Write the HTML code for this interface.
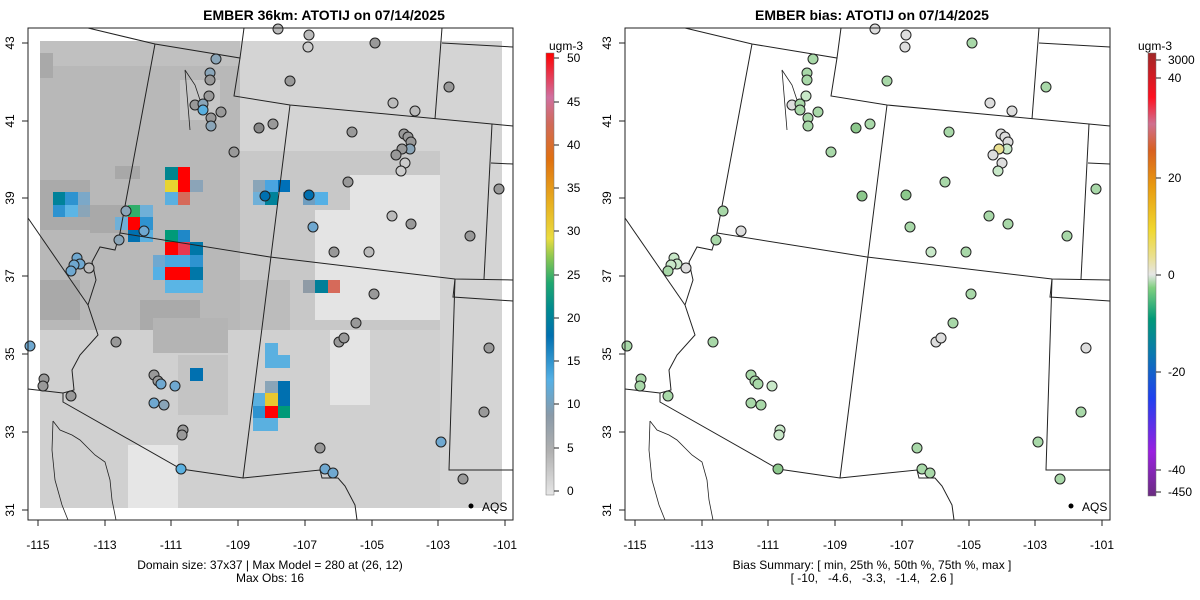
<!DOCTYPE html>
<html><head><meta charset="utf-8"><style>
body{margin:0;background:#fff;}
svg{display:block;font-family:"Liberation Sans",sans-serif;}
</style></head><body>
<svg width="1200" height="600" viewBox="0 0 1200 600" xmlns="http://www.w3.org/2000/svg">
<defs>
<linearGradient id="cb1" x1="0" y1="1" x2="0" y2="0">
<stop offset="0" stop-color="#e6e6e6"/><stop offset="0.1" stop-color="#b0b0b0"/><stop offset="0.18" stop-color="#8a9aa8"/>
<stop offset="0.26" stop-color="#55b0e5"/><stop offset="0.36" stop-color="#0070b0"/><stop offset="0.42" stop-color="#008a90"/>
<stop offset="0.48" stop-color="#20a870"/><stop offset="0.54" stop-color="#90c850"/><stop offset="0.58" stop-color="#eadc40"/>
<stop offset="0.66" stop-color="#e8b020"/><stop offset="0.76" stop-color="#e07010"/><stop offset="0.84" stop-color="#d06a5a"/>
<stop offset="0.9" stop-color="#d070a0"/><stop offset="1" stop-color="#ff0000"/></linearGradient>
<linearGradient id="cb2" x1="0" y1="1" x2="0" y2="0">
<stop offset="0" stop-color="#6a2c80"/><stop offset="0.1" stop-color="#9a20e0"/><stop offset="0.22" stop-color="#2040f0"/>
<stop offset="0.32" stop-color="#0a78b0"/><stop offset="0.4" stop-color="#009a78"/><stop offset="0.47" stop-color="#80d080"/>
<stop offset="0.5" stop-color="#e6e6e6"/><stop offset="0.54" stop-color="#eae090"/><stop offset="0.6" stop-color="#f0d830"/>
<stop offset="0.7" stop-color="#e89a10"/><stop offset="0.78" stop-color="#d86020"/><stop offset="0.84" stop-color="#d07090"/>
<stop offset="0.9" stop-color="#ff1020"/><stop offset="1" stop-color="#a02828"/></linearGradient>
<g id="borders" fill="none" stroke="#222" stroke-width="1">
<polyline points="88,28 155,44 240,58 244,28"/>
<polyline points="240,58 234,96 290,105 492,124 513,126"/>
<polyline points="442,28 435,119"/>
<polyline points="442,43 513,47"/>
<polyline points="491,163 513,164"/>
<polyline points="155,44 120,233 270,257 455,279 513,280"/>
<polyline points="492,124 484,279"/>
<polyline points="455,279 453,297 513,301"/>
<polyline points="455,279 449,470 513,470"/>
<polyline points="290,105 263,320 243,478"/>
<polyline points="28,218 88,305"/>
<polyline points="120,233 115,250 100,247 92,262 96,280 88,305 98,335 80,355 72,370 74,390 63,393 63,402 181,469 243,478 320,470 322,478 338,478 345,486 355,505 357,520"/>
<polyline points="28,389 63,393"/>
<polyline points="53,421 60,430 72,435 80,440 88,448 95,455 105,462 110,480 112,500 116,520" stroke-width="0.8"/>
<polyline points="53,421 52,450 55,480 62,505 68,520" stroke-width="0.8"/>
<polyline points="190,130 185,70 195,85 200,100 195,110" stroke-width="0.8"/>
</g>
</defs>

<!-- LEFT PANEL -->
<text x="324" y="20" font-size="14" font-weight="bold" text-anchor="middle">EMBER 36km: ATOTIJ on 07/14/2025</text>
<rect x="40" y="41" width="462" height="467" fill="#c8c8c8"/>
<rect x="40" y="41" width="200" height="25" fill="#c0c0c0"/>
<rect x="40" y="66" width="200" height="264" fill="#b8b8b8"/>
<rect x="40" y="53" width="13" height="25" fill="#a9a9a9"/>
<rect x="40" y="180" width="50" height="50" fill="#aaaaaa"/>
<rect x="90" y="205" width="50" height="28" fill="#a9a9a9"/>
<rect x="115" y="166" width="25" height="13" fill="#a8a8a8"/>
<rect x="40" y="280" width="40" height="40" fill="#a9a9a9"/>
<rect x="140" y="300" width="60" height="40" fill="#aaaaaa"/>
<rect x="180" y="80" width="40" height="40" fill="#c6c6c6"/>
<rect x="40" y="330" width="200" height="178" fill="#d0d0d0"/>
<rect x="153" y="318" width="75" height="35" fill="#b4b4b4"/>
<rect x="178" y="355" width="50" height="60" fill="#c4c4c4"/>
<rect x="240" y="41" width="262" height="110" fill="#d4d4d4"/>
<rect x="440" y="41" width="62" height="467" fill="#d4d4d4"/>
<rect x="350" y="175" width="90" height="80" fill="#e4e4e4"/>
<rect x="315" y="210" width="125" height="110" fill="#e4e4e4"/>
<rect x="240" y="330" width="200" height="178" fill="#d0d0d0"/>
<rect x="330" y="330" width="40" height="75" fill="#e4e4e4"/>
<rect x="128" y="445" width="50" height="63" fill="#e6e6e6"/>
<rect x="240" y="280" width="50" height="50" fill="#bcbcbc"/>
<g>
<rect x="165" y="167" width="13" height="13" fill="#00858f"/><rect x="178" y="167" width="12" height="13" fill="#ff0000"/>
<rect x="165" y="180" width="13" height="12" fill="#e8d430"/><rect x="178" y="180" width="12" height="12" fill="#ff0000"/><rect x="190" y="180" width="13" height="12" fill="#8ba4b8"/>
<rect x="165" y="192" width="13" height="13" fill="#5ab0e0"/><rect x="178" y="192" width="12" height="13" fill="#d66a5a"/>
<rect x="53" y="192" width="12" height="13" fill="#00829a"/><rect x="65" y="192" width="13" height="13" fill="#2e93d0"/><rect x="78" y="192" width="12" height="13" fill="#7ba8c8"/>
<rect x="53" y="205" width="12" height="12" fill="#2e93d0"/><rect x="65" y="205" width="13" height="12" fill="#5cb5e5"/><rect x="78" y="205" width="12" height="12" fill="#8aa5b8"/>
<rect x="128" y="205" width="12" height="12" fill="#2fae6a"/><rect x="140" y="205" width="13" height="12" fill="#6fb0d8"/>
<rect x="115" y="217" width="13" height="13" fill="#6fb0d8"/><rect x="128" y="217" width="12" height="13" fill="#ff0000"/><rect x="140" y="217" width="13" height="13" fill="#2e93d0"/>
<rect x="128" y="230" width="12" height="12" fill="#0070b0"/><rect x="140" y="230" width="13" height="12" fill="#5ab0e0"/>
<rect x="165" y="230" width="13" height="12" fill="#009a78"/><rect x="178" y="230" width="12" height="12" fill="#1f88c8"/>
<rect x="165" y="242" width="13" height="13" fill="#ff0000"/><rect x="178" y="242" width="12" height="13" fill="#e83850"/><rect x="190" y="242" width="13" height="13" fill="#0077a8"/>
<rect x="153" y="255" width="12" height="12" fill="#6fa8d0"/><rect x="165" y="255" width="25" height="12" fill="#4aa8e0"/><rect x="190" y="255" width="13" height="12" fill="#2e93d0"/>
<rect x="153" y="267" width="12" height="13" fill="#55b0e5"/><rect x="165" y="267" width="25" height="13" fill="#ff0000"/><rect x="190" y="267" width="13" height="13" fill="#0077a8"/>
<rect x="165" y="280" width="38" height="13" fill="#5ab5e5"/>
<rect x="253" y="180" width="12" height="12" fill="#8aa5b8"/><rect x="265" y="180" width="13" height="12" fill="#4aa5e0"/><rect x="278" y="180" width="12" height="12" fill="#0070b8"/>
<rect x="253" y="192" width="12" height="13" fill="#6fb0d8"/><rect x="265" y="192" width="13" height="13" fill="#00829a"/>
<rect x="303" y="192" width="12" height="13" fill="#6f9ec0"/><rect x="315" y="192" width="13" height="13" fill="#55b0e5"/>
<rect x="303" y="280" width="12" height="13" fill="#8f9ba6"/><rect x="315" y="280" width="13" height="13" fill="#007f99"/><rect x="328" y="280" width="12" height="13" fill="#d66a5a"/>
<rect x="265" y="343" width="13" height="12" fill="#5ab0e0"/>
<rect x="265" y="355" width="25" height="13" fill="#5ab0e0"/>
<rect x="265" y="381" width="13" height="12" fill="#8aa5b8"/><rect x="278" y="381" width="12" height="12" fill="#0070b0"/>
<rect x="253" y="393" width="12" height="13" fill="#5ab0e0"/><rect x="265" y="393" width="13" height="13" fill="#e8c830"/><rect x="278" y="393" width="12" height="13" fill="#0070b0"/>
<rect x="253" y="406" width="12" height="12" fill="#2e93d0"/><rect x="265" y="406" width="13" height="12" fill="#ff0000"/><rect x="278" y="406" width="12" height="12" fill="#009a78"/>
<rect x="253" y="418" width="25" height="13" fill="#5ab0e0"/>
<rect x="190" y="368" width="13" height="13" fill="#0070b0"/>
</g>
<use href="#borders"/>
<g stroke="#222" stroke-width="1">
<circle cx="216" cy="59" r="5" fill="#8aa5b8"/><circle cx="210" cy="73" r="5" fill="#8aa5b8"/><circle cx="210" cy="80" r="5" fill="#999"/>
<circle cx="209" cy="96" r="5" fill="#999"/><circle cx="195" cy="105" r="5" fill="#999"/><circle cx="203" cy="104" r="5" fill="#8aa5b8"/>
<circle cx="203" cy="110" r="5" fill="#5ab0e0"/><circle cx="211" cy="118" r="5" fill="#999"/><circle cx="221" cy="112" r="5" fill="#999"/>
<circle cx="211" cy="126" r="5" fill="#8aa5b8"/><circle cx="259" cy="128" r="5" fill="#888"/><circle cx="273" cy="124" r="5" fill="#999"/>
<circle cx="234" cy="152" r="5" fill="#999"/><circle cx="278" cy="29" r="5" fill="#bbb"/><circle cx="309" cy="35" r="5" fill="#bbb"/>
<circle cx="308" cy="47" r="5" fill="#ccc"/><circle cx="375" cy="43" r="5" fill="#999"/><circle cx="290" cy="81" r="5" fill="#999"/>
<circle cx="393" cy="103" r="5" fill="#bbb"/><circle cx="415" cy="111" r="5" fill="#bbb"/><circle cx="449" cy="87" r="5" fill="#999"/>
<circle cx="352" cy="132" r="5" fill="#999"/><circle cx="404" cy="134" r="5" fill="#999"/><circle cx="408" cy="137" r="5" fill="#999"/>
<circle cx="411" cy="142" r="5" fill="#999"/><circle cx="410" cy="149" r="5" fill="#8aa5b8"/><circle cx="402" cy="149" r="5" fill="#999"/>
<circle cx="396" cy="155" r="5" fill="#999"/><circle cx="405" cy="163" r="5" fill="#ccc"/><circle cx="401" cy="171" r="5" fill="#ccc"/>
<circle cx="348" cy="182" r="5" fill="#999"/><circle cx="499" cy="189" r="5" fill="#999"/><circle cx="265" cy="196" r="5" fill="#0070b0"/>
<circle cx="309" cy="195" r="5" fill="#0070b0"/><circle cx="313" cy="227" r="5" fill="#6fa8d0"/><circle cx="392" cy="216" r="5" fill="#bbb"/>
<circle cx="411" cy="224" r="5" fill="#999"/><circle cx="470" cy="236" r="5" fill="#999"/><circle cx="126" cy="211" r="5" fill="#8aa5b8"/>
<circle cx="144" cy="231" r="5" fill="#6fa8d0"/><circle cx="119" cy="240" r="5" fill="#8aa5b8"/><circle cx="334" cy="252" r="5" fill="#999"/>
<circle cx="369" cy="252" r="5" fill="#bbb"/><circle cx="374" cy="294" r="5" fill="#999"/><circle cx="356" cy="323" r="5" fill="#999"/>
<circle cx="339" cy="342" r="5" fill="#999"/><circle cx="344" cy="338" r="5" fill="#999"/><circle cx="489" cy="348" r="5" fill="#999"/>
<circle cx="484" cy="412" r="5" fill="#999"/><circle cx="441" cy="442" r="5" fill="#6fa8d0"/><circle cx="463" cy="479" r="5" fill="#999"/>
<circle cx="320" cy="448" r="5" fill="#999"/><circle cx="325" cy="469" r="5" fill="#6fa8d0"/><circle cx="333" cy="473" r="5" fill="#6fa8d0"/>
<circle cx="154" cy="375" r="5" fill="#999"/><circle cx="158" cy="381" r="5" fill="#999"/><circle cx="161" cy="384" r="5" fill="#6fa8d0"/><circle cx="175" cy="386" r="5" fill="#6fa8d0"/>
<circle cx="154" cy="403" r="5" fill="#6fa8d0"/><circle cx="164" cy="405" r="5" fill="#8aa5b8"/><circle cx="183" cy="430" r="5" fill="#999"/>
<circle cx="182" cy="435" r="5" fill="#999"/><circle cx="181" cy="469" r="5" fill="#5ab0e0"/><circle cx="116" cy="342" r="5" fill="#999"/>
<circle cx="71" cy="396" r="5" fill="#999"/><circle cx="44" cy="379" r="5" fill="#999"/><circle cx="43" cy="386" r="5" fill="#999"/>
<circle cx="30" cy="346" r="5" fill="#6fa8d0"/><circle cx="77" cy="258" r="5" fill="#6fa8d0"/><circle cx="80" cy="264" r="5" fill="#6fa8d0"/>
<circle cx="74" cy="265" r="5" fill="#6fa8d0"/><circle cx="71" cy="271" r="5" fill="#6fa8d0"/><circle cx="89" cy="268" r="5" fill="#bbb"/>
</g>
<rect x="28" y="28" width="485" height="492" fill="none" stroke="#222"/>
<circle cx="471" cy="506" r="2.5" fill="#000"/><text x="482" y="511" font-size="12">AQS</text>
<g stroke="#222"><line x1="38" y1="520" x2="38" y2="526"/><line x1="105" y1="520" x2="105" y2="526"/><line x1="171" y1="520" x2="171" y2="526"/><line x1="238" y1="520" x2="238" y2="526"/><line x1="305" y1="520" x2="305" y2="526"/><line x1="372" y1="520" x2="372" y2="526"/><line x1="438" y1="520" x2="438" y2="526"/><line x1="505" y1="520" x2="505" y2="526"/>
<line x1="22" y1="43" x2="28" y2="43"/><line x1="22" y1="121" x2="28" y2="121"/><line x1="22" y1="198" x2="28" y2="198"/><line x1="22" y1="276" x2="28" y2="276"/><line x1="22" y1="354" x2="28" y2="354"/><line x1="22" y1="432" x2="28" y2="432"/><line x1="22" y1="510" x2="28" y2="510"/></g>
<g font-size="12" text-anchor="middle"><text x="38" y="549">-115</text><text x="105" y="549">-113</text><text x="171" y="549">-111</text><text x="238" y="549">-109</text><text x="305" y="549">-107</text><text x="372" y="549">-105</text><text x="438" y="549">-103</text><text x="505" y="549">-101</text>
<text transform="translate(14,43) rotate(-90)">43</text><text transform="translate(14,121) rotate(-90)">41</text><text transform="translate(14,198) rotate(-90)">39</text><text transform="translate(14,276) rotate(-90)">37</text><text transform="translate(14,354) rotate(-90)">35</text><text transform="translate(14,432) rotate(-90)">33</text><text transform="translate(14,510) rotate(-90)">31</text>
<text x="270" y="569">Domain size: 37x37 | Max Model = 280 at (26, 12)</text><text x="270" y="582">Max Obs: 16</text></g>
<text x="566" y="50" font-size="12" text-anchor="middle">ugm-3</text>
<rect x="546" y="53" width="8" height="442" fill="url(#cb1)" stroke="#777" stroke-width="0.5"/>
<g stroke="#222"><line x1="554" y1="58" x2="559" y2="58"/><line x1="554" y1="102" x2="559" y2="102"/><line x1="554" y1="145" x2="559" y2="145"/><line x1="554" y1="188" x2="559" y2="188"/><line x1="554" y1="231" x2="559" y2="231"/><line x1="554" y1="275" x2="559" y2="275"/><line x1="554" y1="318" x2="559" y2="318"/><line x1="554" y1="361" x2="559" y2="361"/><line x1="554" y1="404" x2="559" y2="404"/><line x1="554" y1="448" x2="559" y2="448"/><line x1="554" y1="491" x2="559" y2="491"/></g>
<g font-size="12"><text x="567" y="62">50</text><text x="567" y="106">45</text><text x="567" y="149">40</text><text x="567" y="192">35</text><text x="567" y="235">30</text><text x="567" y="279">25</text><text x="567" y="322">20</text><text x="567" y="365">15</text><text x="567" y="408">10</text><text x="567" y="452">5</text><text x="567" y="495">0</text></g>

<!-- RIGHT PANEL -->
<text x="872" y="20" font-size="14" font-weight="bold" text-anchor="middle">EMBER bias: ATOTIJ on 07/14/2025</text>
<use href="#borders" x="597"/>
<g stroke="#222" stroke-width="1" transform="translate(597,0)">
<circle cx="216" cy="59" r="5" fill="#a8d8a8"/><circle cx="210" cy="73" r="5" fill="#a8d8a8"/><circle cx="210" cy="80" r="5" fill="#a8d8a8"/>
<circle cx="209" cy="96" r="5" fill="#c8e8c8"/><circle cx="195" cy="105" r="5" fill="#ddd"/><circle cx="203" cy="104" r="5" fill="#a8d8a8"/>
<circle cx="203" cy="110" r="5" fill="#a8d8a8"/><circle cx="211" cy="118" r="5" fill="#a8d8a8"/><circle cx="221" cy="112" r="5" fill="#a8d8a8"/>
<circle cx="211" cy="126" r="5" fill="#a8d8a8"/><circle cx="259" cy="128" r="5" fill="#8cc88c"/><circle cx="273" cy="124" r="5" fill="#a8d8a8"/>
<circle cx="234" cy="152" r="5" fill="#a8d8a8"/><circle cx="278" cy="29" r="5" fill="#ddd"/><circle cx="309" cy="35" r="5" fill="#ddd"/>
<circle cx="308" cy="47" r="5" fill="#ddd"/><circle cx="375" cy="43" r="5" fill="#a8d8a8"/><circle cx="290" cy="81" r="5" fill="#a8d8a8"/>
<circle cx="393" cy="103" r="5" fill="#ddd"/><circle cx="415" cy="111" r="5" fill="#ddd"/><circle cx="449" cy="87" r="5" fill="#a8d8a8"/>
<circle cx="352" cy="132" r="5" fill="#a8d8a8"/><circle cx="404" cy="134" r="5" fill="#ddd"/><circle cx="408" cy="137" r="5" fill="#ddd"/>
<circle cx="411" cy="142" r="5" fill="#ddd"/><circle cx="410" cy="149" r="5" fill="#c8e8c8"/><circle cx="402" cy="149" r="5" fill="#eae090"/>
<circle cx="396" cy="155" r="5" fill="#ddd"/><circle cx="405" cy="163" r="5" fill="#ddd"/><circle cx="401" cy="171" r="5" fill="#c8e8c8"/>
<circle cx="348" cy="182" r="5" fill="#a8d8a8"/><circle cx="499" cy="189" r="5" fill="#a8d8a8"/><circle cx="265" cy="196" r="5" fill="#8cc88c"/>
<circle cx="309" cy="195" r="5" fill="#8cc88c"/><circle cx="313" cy="227" r="5" fill="#a8d8a8"/><circle cx="392" cy="216" r="5" fill="#a8d8a8"/>
<circle cx="411" cy="224" r="5" fill="#a8d8a8"/><circle cx="470" cy="236" r="5" fill="#a8d8a8"/><circle cx="126" cy="211" r="5" fill="#a8d8a8"/>
<circle cx="144" cy="231" r="5" fill="#ddd"/><circle cx="119" cy="240" r="5" fill="#a8d8a8"/><circle cx="334" cy="252" r="5" fill="#c8e8c8"/>
<circle cx="369" cy="252" r="5" fill="#a8d8a8"/><circle cx="374" cy="294" r="5" fill="#a8d8a8"/><circle cx="356" cy="323" r="5" fill="#a8d8a8"/>
<circle cx="339" cy="342" r="5" fill="#ddd"/><circle cx="344" cy="338" r="5" fill="#ddd"/><circle cx="489" cy="348" r="5" fill="#ddd"/>
<circle cx="484" cy="412" r="5" fill="#a8d8a8"/><circle cx="441" cy="442" r="5" fill="#a8d8a8"/><circle cx="463" cy="479" r="5" fill="#a8d8a8"/>
<circle cx="320" cy="448" r="5" fill="#a8d8a8"/><circle cx="325" cy="469" r="5" fill="#a8d8a8"/><circle cx="333" cy="473" r="5" fill="#a8d8a8"/>
<circle cx="154" cy="375" r="5" fill="#a8d8a8"/><circle cx="158" cy="381" r="5" fill="#a8d8a8"/><circle cx="161" cy="384" r="5" fill="#a8d8a8"/><circle cx="175" cy="386" r="5" fill="#c8e8c8"/>
<circle cx="154" cy="403" r="5" fill="#a8d8a8"/><circle cx="164" cy="405" r="5" fill="#a8d8a8"/><circle cx="183" cy="430" r="5" fill="#c8e8c8"/>
<circle cx="182" cy="435" r="5" fill="#c8e8c8"/><circle cx="181" cy="469" r="5" fill="#8cc88c"/><circle cx="116" cy="342" r="5" fill="#a8d8a8"/>
<circle cx="71" cy="396" r="5" fill="#a8d8a8"/><circle cx="44" cy="379" r="5" fill="#a8d8a8"/><circle cx="43" cy="386" r="5" fill="#a8d8a8"/>
<circle cx="30" cy="346" r="5" fill="#a8d8a8"/><circle cx="77" cy="258" r="5" fill="#c8e8c8"/><circle cx="80" cy="264" r="5" fill="#c8e8c8"/>
<circle cx="74" cy="265" r="5" fill="#c8e8c8"/><circle cx="71" cy="271" r="5" fill="#a8d8a8"/><circle cx="89" cy="268" r="5" fill="#ddd"/>
</g>
<rect x="625" y="28" width="485" height="492" fill="none" stroke="#222"/>
<circle cx="1071" cy="506" r="2.5" fill="#000"/><text x="1082" y="511" font-size="12">AQS</text>
<g stroke="#222"><line x1="635" y1="520" x2="635" y2="526"/><line x1="702" y1="520" x2="702" y2="526"/><line x1="768" y1="520" x2="768" y2="526"/><line x1="835" y1="520" x2="835" y2="526"/><line x1="902" y1="520" x2="902" y2="526"/><line x1="969" y1="520" x2="969" y2="526"/><line x1="1035" y1="520" x2="1035" y2="526"/><line x1="1102" y1="520" x2="1102" y2="526"/>
<line x1="619" y1="43" x2="625" y2="43"/><line x1="619" y1="121" x2="625" y2="121"/><line x1="619" y1="198" x2="625" y2="198"/><line x1="619" y1="276" x2="625" y2="276"/><line x1="619" y1="354" x2="625" y2="354"/><line x1="619" y1="432" x2="625" y2="432"/><line x1="619" y1="510" x2="625" y2="510"/></g>
<g font-size="12" text-anchor="middle"><text x="635" y="549">-115</text><text x="702" y="549">-113</text><text x="768" y="549">-111</text><text x="835" y="549">-109</text><text x="902" y="549">-107</text><text x="969" y="549">-105</text><text x="1035" y="549">-103</text><text x="1102" y="549">-101</text>
<text transform="translate(611,43) rotate(-90)">43</text><text transform="translate(611,121) rotate(-90)">41</text><text transform="translate(611,198) rotate(-90)">39</text><text transform="translate(611,276) rotate(-90)">37</text><text transform="translate(611,354) rotate(-90)">35</text><text transform="translate(611,432) rotate(-90)">33</text><text transform="translate(611,510) rotate(-90)">31</text>
<text x="872" y="569">Bias Summary: [ min, 25th %, 50th %, 75th %, max ]</text><text x="872" y="582" xml:space="preserve">[ -10,   -4.6,   -3.3,   -1.4,   2.6 ]</text></g>
<text x="1155" y="50" font-size="12" text-anchor="middle">ugm-3</text>
<rect x="1148" y="53" width="8" height="443" fill="url(#cb2)" stroke="#777" stroke-width="0.5"/>
<g stroke="#222"><line x1="1156" y1="60" x2="1161" y2="60"/><line x1="1156" y1="78" x2="1161" y2="78"/><line x1="1156" y1="178" x2="1161" y2="178"/><line x1="1156" y1="275" x2="1161" y2="275"/><line x1="1156" y1="372" x2="1161" y2="372"/><line x1="1156" y1="470" x2="1161" y2="470"/><line x1="1156" y1="492" x2="1161" y2="492"/></g>
<g font-size="12"><text x="1168" y="64">3000</text><text x="1168" y="82">40</text><text x="1168" y="182">20</text><text x="1168" y="279">0</text><text x="1168" y="376">-20</text><text x="1168" y="474">-40</text><text x="1168" y="496">-450</text></g>
</svg>
</body></html>
